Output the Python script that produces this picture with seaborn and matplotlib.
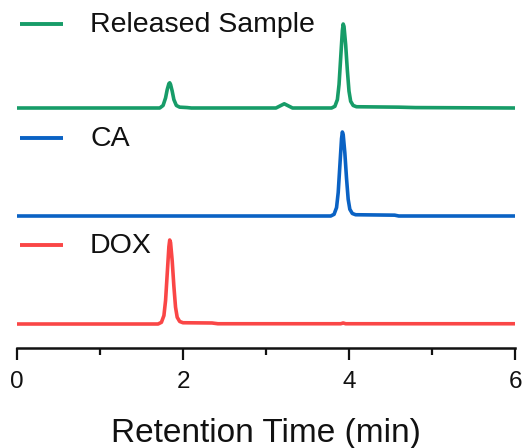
import matplotlib
matplotlib.use("Agg")
import matplotlib.pyplot as plt
import seaborn as sns
import pandas as pd

# Chromatogram traces: retention time (min) and detector signal (normalised to main peak = 100)
dox_time = [0.0, 1.70, 1.74, 1.77, 1.79, 1.81, 1.83, 1.84, 1.85, 1.87, 1.89, 1.91, 1.93, 1.96, 2.00,
            2.35, 2.42, 3.90, 3.93, 3.96, 6.0]
dox_signal = [0.0, 0.0, 2.0, 10.0, 28.0, 60.0, 92.0, 100.0, 97.0, 75.0, 45.0, 20.0, 8.0, 3.0, 1.5,
              1.2, 0.3, 0.3, 1.2, 0.3, 0.3]

ca_time = [0.0, 3.78, 3.82, 3.85, 3.87, 3.89, 3.91, 3.92, 3.93, 3.95, 3.97, 3.99, 4.01, 4.04, 4.08,
           4.55, 4.60, 6.0]
ca_signal = [0.0, 0.0, 2.0, 10.0, 28.0, 60.0, 92.0, 100.0, 97.0, 75.0, 45.0, 20.0, 8.0, 3.0, 1.5,
             1.0, 0.0, 0.0]

rel_time = [0.0, 1.72, 1.76, 1.79, 1.81, 1.83, 1.84, 1.85, 1.87, 1.89, 1.92, 1.96, 2.05, 2.10,
            3.12, 3.18, 3.22, 3.26, 3.32, 3.79, 3.83, 3.86, 3.88, 3.90, 3.92, 3.93, 3.94, 3.96,
            3.98, 4.00, 4.02, 4.05, 4.09, 4.60, 4.80, 6.0]
rel_signal = [0.0, 0.0, 3.0, 12.0, 22.0, 29.0, 30.0, 28.0, 20.0, 10.0, 3.0, 1.0, 0.5, 0.0,
              0.0, 3.0, 5.0, 3.0, 0.0, 0.0, 2.0, 10.0, 28.0, 60.0, 92.0, 100.0, 97.0, 75.0,
              45.0, 20.0, 8.0, 3.0, 1.5, 1.0, 0.5, 0.0]

labels = ["Released Sample", "CA", "DOX"]
colors = ["#179c68", "#0a62c4", "#fa4646"]
traces = [(rel_time, rel_signal), (ca_time, ca_signal), (dox_time, dox_signal)]
offsets = [240, 132, 24]
scale = 0.84
label_y = [323, 209, 102]

sns.set_style("ticks")
plt.rcParams["font.family"] = ["Liberation Sans", "DejaVu Sans"]

fig = plt.figure(figsize=(5.23, 4.48), dpi=100)
ax = fig.add_axes([17 / 523, (448 - 348) / 448, (515 - 17) / 523, 348 / 448])

for (t, s), lab, col, off, ly in zip(traces, labels, colors, offsets, label_y):
    df = pd.DataFrame({"time": t, "signal": [off + v * scale for v in s]})
    sns.lineplot(data=df, x="time", y="signal", ax=ax, color=col, lw=2.6,
                 estimator=None, sort=False, solid_joinstyle="round")
    ax.plot([0.04, 0.56], [ly + 1, ly + 1], color=col, lw=2.8, solid_capstyle="butt")
    ax.text(0.88, ly, lab, fontsize=20.5, va="center", ha="left", color="#111111")

ax.set_xlim(0, 6)
ax.set_ylim(0, 348)
ax.set_xticks([0, 2, 4, 6])
ax.set_xticks([1, 3, 5], minor=True)
ax.tick_params(axis="x", which="major", length=8.5, width=1.6, labelsize=17.5, pad=8,
               color="#111111", labelcolor="#111111")
ax.tick_params(axis="x", which="minor", length=5, width=1.6, color="#111111")
ax.set_yticks([])
ax.set_xlabel("Retention Time (min)", fontsize=24, labelpad=18, color="#111111")
ax.set_ylabel("")
for side in ["top", "right", "left"]:
    ax.spines[side].set_visible(False)
ax.spines["bottom"].set_linewidth(1.8)
ax.spines["bottom"].set_color("#111111")
ax.set_facecolor("white")

fig.savefig("out.png", dpi=100)
